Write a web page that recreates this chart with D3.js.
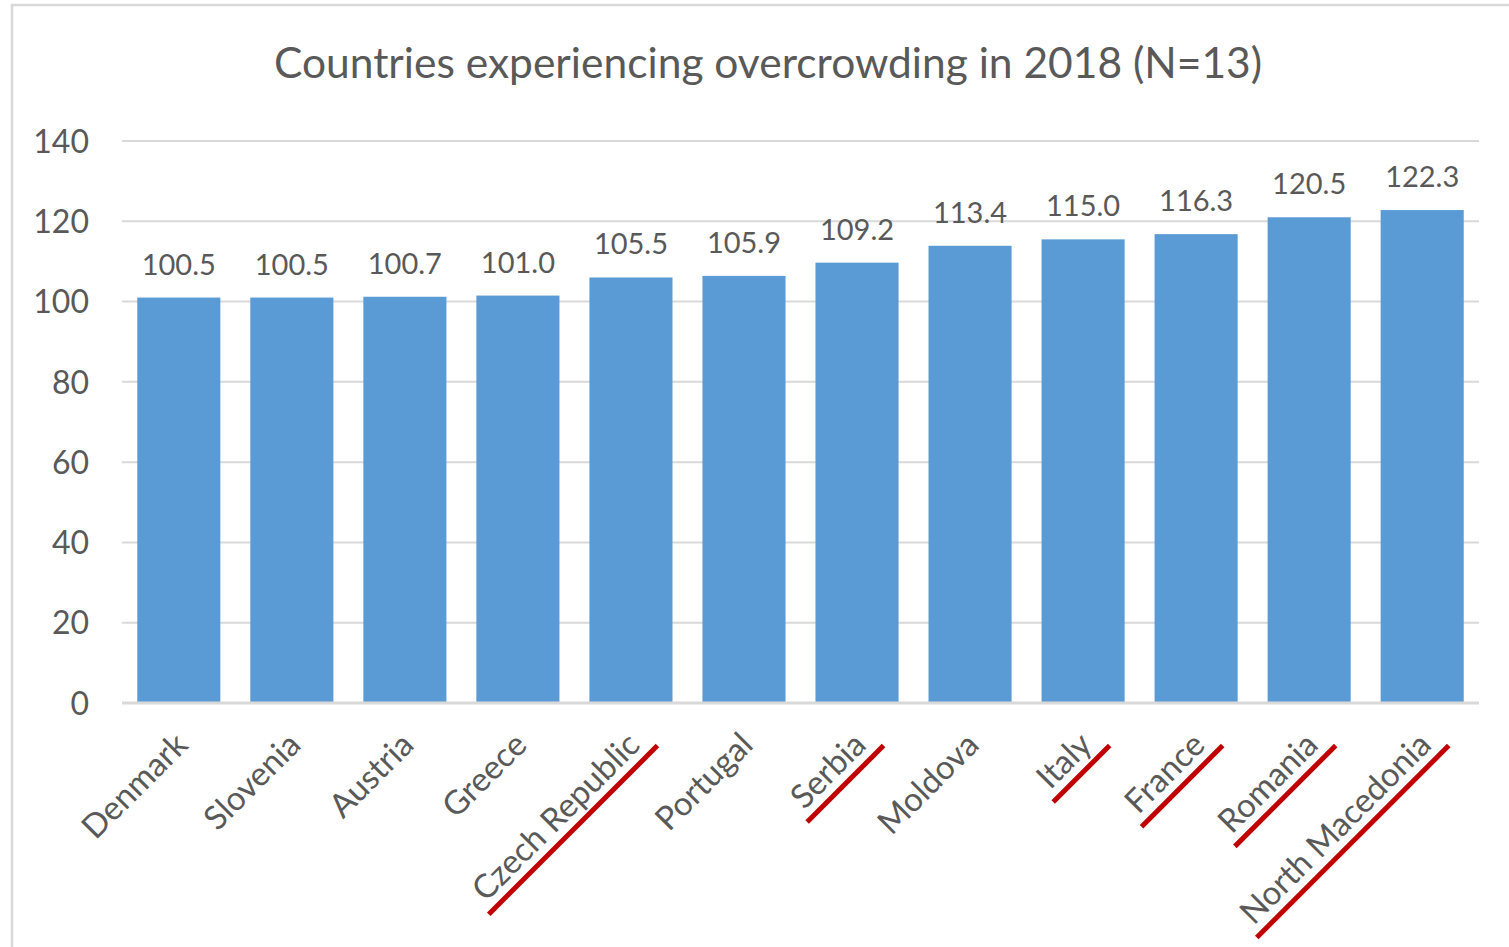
<!DOCTYPE html>
<html><head><meta charset="utf-8">
<script src="https://cdn.jsdelivr.net/npm/d3@7"></script>
<style>html,body{margin:0;padding:0;background:#fff;overflow:hidden}</style>
</head><body>
<svg id="chart" width="1509" height="947"></svg>
<script>
const title = "Countries experiencing overcrowding in 2018 (N=13)";
const countries = ["Denmark","Slovenia","Austria","Greece","Czech Republic","Portugal","Serbia","Moldova","Italy","France","Romania","North Macedonia"];
const values = [100.5,100.5,100.7,101.0,105.5,105.9,109.2,113.4,115.0,116.3,120.5,122.3];
const underlined = ["Czech Republic","Serbia","Italy","France","Romania","North Macedonia"];
const yTicks = [0,20,40,60,80,100,120,140];

const svg = d3.select("#chart");
const font = "Lato, 'Open Sans', sans-serif";
const grey = "#595959";

// chart frame
svg.append("rect").attr("x",12).attr("y",5).attr("width",1600).attr("height",1100)
  .attr("fill","#fff").attr("stroke","#d9d9d9").attr("stroke-width",2.5);

const x = d3.scaleBand().domain(countries).range([122,1479]).paddingInner(0.265).paddingOuter(0.135);
const y = d3.scaleLinear().domain([0,140]).range([703,141]);

// title
svg.append("text").attr("x",768).attr("y",78).attr("text-anchor","middle")
  .attr("font-family",font).attr("font-size",42.5).attr("fill",grey).text(title);

// gridlines
svg.append("g").selectAll("line").data(yTicks.filter(d=>d>0)).join("line")
  .attr("x1",122).attr("x2",1479).attr("y1",d=>y(d)).attr("y2",d=>y(d))
  .attr("stroke","#d9d9d9").attr("stroke-width",2);

// y axis labels
const yAxis = d3.axisLeft(y).tickValues(yTicks).tickSize(0).tickPadding(0);
const gy = svg.append("g").attr("transform","translate(89,0)").call(yAxis);
gy.select(".domain").remove();
gy.selectAll("text").attr("font-family",font).attr("font-size",32).attr("fill",grey).attr("dy","0.35em");

// bars
svg.append("g").selectAll("rect").data(countries).join("rect")
  .attr("x",d=>x(d)).attr("width",x.bandwidth())
  .attr("y",(d,i)=>y(values[i])-2).attr("height",(d,i)=>y(0)-y(values[i])+2)
  .attr("fill","#5B9BD5");

// baseline axis
const xAxis = d3.axisBottom(x).tickSize(0).tickFormat("");
const gx = svg.append("g").attr("transform",`translate(0,${y(0)})`).call(xAxis);
gx.select(".domain").attr("d","M122,0H1479").attr("stroke","#d9d9d9").attr("stroke-width",3);

// value labels
svg.append("g").selectAll("text").data(countries).join("text")
  .attr("x",d=>x(d)+x.bandwidth()/2).attr("y",(d,i)=>y(values[i])-25)
  .attr("text-anchor","middle").attr("font-family",font).attr("font-size",29).attr("fill",grey)
  .text((d,i)=>d3.format(".1f")(values[i]));

// category labels rotated
const lab = svg.append("g").selectAll("g").data(countries).join("g")
  .attr("transform",d=>`translate(${x(d)+x.bandwidth()/2-6},${y(0)+27}) rotate(-45)`);
lab.append("text").attr("text-anchor","end").attr("dy","0.72em")
  .attr("font-family",font).attr("font-size",33).attr("fill",grey).text(d=>d);
lab.each(function(d){
  if(!underlined.includes(d)) return;
  const g = d3.select(this);
  const L = g.select("text").node().getComputedTextLength();
  g.append("line").attr("x1",-L-6).attr("x2",12).attr("y1",34).attr("y2",34)
    .attr("stroke","#C00000").attr("stroke-width",5);
});
</script>
</body></html>
